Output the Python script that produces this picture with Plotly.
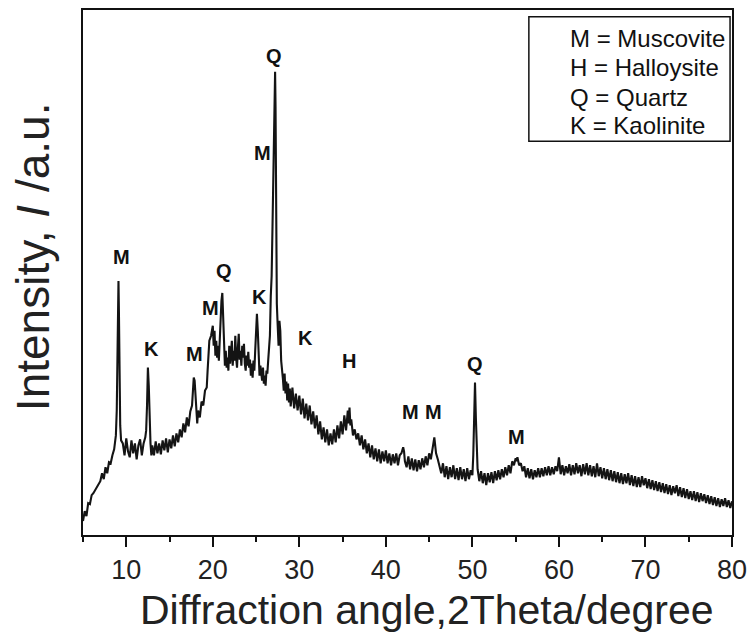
import plotly.graph_objects as go

# ---- data (2theta in degrees, intensity in arbitrary units) ----
two_theta = [
    5.0, 5.2, 5.4, 5.6, 5.8, 6.0, 6.2, 6.4, 6.6, 6.8, 7.0, 7.2, 7.4, 7.6, 7.8, 8.0, 8.2, 8.4, 8.6,
    8.8, 8.9, 9.0, 9.05, 9.1, 9.15, 9.2, 9.3, 9.4,
    9.6, 9.8, 10.0, 10.2, 10.4, 10.6, 10.8, 11.0, 11.2, 11.4, 11.6, 11.8, 12.0, 12.2,
    12.3, 12.4, 12.5, 12.6, 12.7, 12.8, 12.9,
    13.0, 13.2, 13.4, 13.6, 13.8, 14.0, 14.2, 14.4, 14.6, 14.8, 15.0, 15.2, 15.4, 15.6, 15.8, 16.0,
    16.2, 16.4, 16.6, 16.8, 17.0, 17.2, 17.4, 17.6,
    17.7, 17.8, 17.9, 18.0, 18.1, 18.2,
    18.3, 18.5, 18.7, 18.9, 19.1, 19.3, 19.4, 19.5, 19.6,
    19.8, 20.0, 20.1, 20.2, 20.3, 20.4, 20.5, 20.6, 20.7, 20.8,
    20.9, 21.0, 21.1, 21.2, 21.3, 21.4,
    21.5, 21.6, 21.7, 21.8, 21.9, 22.0, 22.1, 22.2, 22.3, 22.4, 22.5, 22.6, 22.7, 22.8, 22.9,
    23.0, 23.1, 23.2, 23.3, 23.4, 23.5, 23.6, 23.7, 23.8, 23.9, 24.0, 24.1, 24.2, 24.3, 24.4,
    24.5, 24.6, 24.7, 24.8, 24.9,
    25.0, 25.1, 25.2, 25.3, 25.4,
    25.5, 25.6, 25.7, 25.8, 25.9, 26.0, 26.1, 26.2, 26.3, 26.4, 26.5, 26.6,
    26.7, 26.8, 26.9, 27.0, 27.1, 27.2, 27.25, 27.3, 27.4, 27.5, 27.6, 27.7, 27.8, 27.9, 28.0,
    28.1, 28.2, 28.3, 28.4, 28.5, 28.6, 28.7, 28.8, 28.9, 29.0,
    29.2, 29.4, 29.6, 29.8, 30.0, 30.2, 30.4, 30.6, 30.8, 31.0,
    31.2, 31.4, 31.6, 31.8, 32.0, 32.2, 32.4, 32.6, 32.8, 33.0,
    33.2, 33.4, 33.6, 33.8, 34.0, 34.2, 34.4, 34.6, 34.8, 35.0,
    35.2, 35.4,
    35.5, 35.6, 35.7, 35.8, 35.9, 36.0, 36.2, 36.4, 36.6,
    36.8, 37.0, 37.2, 37.4, 37.6, 37.8, 38.0, 38.2, 38.4, 38.6,
    38.8, 39.0, 39.2, 39.4, 39.6, 39.8, 40.0, 40.2, 40.4, 40.6,
    40.8, 41.0, 41.2, 41.4, 41.6, 41.8,
    42.0, 42.1, 42.2, 42.4, 42.6, 42.8, 43.0, 43.2, 43.4, 43.6,
    43.8, 44.0, 44.2, 44.4, 44.6, 44.8, 45.0, 45.2, 45.4, 45.5,
    45.6, 45.7, 45.8, 46.0, 46.2,
    46.4, 46.6, 46.8, 47.0, 47.2, 47.4, 47.6, 47.8, 48.0, 48.2,
    48.4, 48.6, 48.8, 49.0, 49.2, 49.4, 49.6, 49.8, 50.0,
    50.1, 50.2, 50.3, 50.4, 50.5, 50.6,
    50.8, 51.0, 51.2, 51.4, 51.6, 51.8, 52.0, 52.2, 52.4, 52.6,
    52.8, 53.0, 53.2, 53.4, 53.6, 53.8, 54.0, 54.2, 54.4, 54.6, 54.8,
    55.0, 55.1, 55.2, 55.4, 55.6, 55.8,
    56.0, 56.2, 56.4, 56.6, 56.8, 57.0, 57.2, 57.4, 57.6, 57.8,
    58.0, 58.2, 58.4, 58.6, 58.8, 59.0, 59.2, 59.4, 59.6, 59.8,
    60.0, 60.1,
    60.2, 60.4, 60.6, 60.8, 61.0, 61.2, 61.4, 61.6, 61.8, 62.0,
    62.2, 62.4, 62.6, 62.8, 63.0, 63.2, 63.4, 63.6, 63.8, 64.0,
    64.2, 64.4, 64.6, 64.8, 65.0, 65.2, 65.4, 65.6, 65.8, 66.0,
    66.2, 66.4, 66.6, 66.8, 67.0, 67.2, 67.4, 67.6, 67.8, 68.0,
    68.2, 68.4, 68.6, 68.8, 69.0, 69.2, 69.4, 69.6, 69.8, 70.0,
    70.2, 70.4, 70.6, 70.8, 71.0, 71.2, 71.4, 71.6, 71.8, 72.0,
    72.2, 72.4, 72.6, 72.8, 73.0, 73.2, 73.4, 73.6, 73.8, 74.0,
    74.2, 74.4, 74.6, 74.8, 75.0, 75.2, 75.4, 75.6, 75.8, 76.0,
    76.2, 76.4, 76.6, 76.8, 77.0, 77.2, 77.4, 77.6, 77.8, 78.0,
    78.2, 78.4, 78.6, 78.8, 79.0, 79.2, 79.4, 79.6, 79.8, 80.0,
]

intensity = [
    14, 24, 19, 32, 31, 40, 42, 45, 48, 52, 54, 62, 56, 68, 62, 73, 72, 80, 86,
    100, 125, 190, 240, 255, 225, 160, 110, 95,
    92, 80, 97, 84, 78, 95, 82, 92, 76, 90, 96, 80, 92, 98,
    105, 130, 168, 150, 110, 92, 80,
    90, 80, 94, 82, 92, 81, 95, 85, 97, 83, 96, 87, 100, 89, 102, 93,
    106, 98, 112, 103, 118, 109, 124, 130,
    145, 158, 155, 140, 120, 112,
    125, 118, 134, 130, 145, 148, 165, 185, 195,
    200, 210, 190, 205, 180, 195, 178, 190, 175, 200,
    215, 235, 243, 215, 190, 170,
    185, 168, 178, 165, 190, 172, 182, 195, 170, 185, 175, 200, 178, 168, 188,
    202, 176, 185, 170, 190, 178, 192, 172, 165, 180, 170, 184, 168, 176, 160,
    172, 158, 175, 165, 185,
    200, 222, 205, 175, 160,
    170, 162, 155, 168, 152, 160, 150, 165, 162, 175, 185, 200,
    240, 260, 310, 380, 440, 465, 430, 330, 232, 210, 190, 215, 205, 175, 168,
    157, 145, 162, 142, 154, 135, 152, 133, 147, 129,
    148, 127, 142, 125, 140, 121, 137, 117, 132, 115,
    130, 111, 124, 107, 120, 101, 114, 96, 108, 93,
    106, 90, 102, 91, 106, 93, 110, 97, 114, 101,
    120, 105,
    115, 125, 112, 128, 110, 116, 100, 106, 96,
    102, 90, 100, 86, 96, 82, 92, 78, 90, 76,
    87, 74, 86, 72, 84, 74, 85, 72, 82, 70,
    81, 72, 82, 70, 80, 82,
    88, 84, 74, 68, 79, 66, 77, 65, 76, 64,
    75, 66, 77, 68, 79, 70, 82, 76, 86, 92,
    98, 90, 82, 76, 68,
    62, 72, 58, 69, 56, 68, 58, 70, 56, 67,
    55, 68, 56, 66, 54, 67, 56, 65, 60,
    80, 120, 153, 118, 75, 66,
    54, 64, 52, 62, 50, 62, 53, 63, 52, 64,
    55, 65, 56, 66, 58, 68, 60, 70, 62, 74, 70,
    77, 74, 78, 70, 72, 64,
    69, 58, 67, 57, 66, 56, 65, 58, 67, 58,
    67, 59, 68, 60, 69, 60, 68, 61, 69, 64,
    78, 70,
    61, 70, 60, 69, 62, 71, 60, 70, 61, 72,
    62, 70, 59, 71, 61, 72, 60, 70, 59, 69,
    58, 72, 59, 68, 57, 67, 56, 66, 55, 65,
    54, 64, 53, 63, 52, 62, 51, 61, 52, 62,
    50, 60, 49, 59, 48, 58, 48, 59, 50, 57,
    47, 56, 46, 55, 45, 54, 44, 53, 43, 52,
    42, 51, 41, 50, 40, 49, 42, 50, 39, 48,
    38, 47, 37, 46, 36, 44, 35, 44, 34, 43,
    33, 42, 34, 41, 32, 40, 31, 39, 30, 38,
    29, 37, 28, 36, 29, 37, 28, 35, 27, 34,
]

# phase identification labels placed above the reflections
phase_labels = ["M", "K", "M", "M", "Q", "K", "M", "Q", "K", "H", "M", "M", "Q", "M"]
label_theta = [9.47, 12.9, 17.94, 19.77, 21.26, 25.38, 25.73, 27.1, 30.76, 35.69, 42.79, 45.54, 50.35, 55.04]
label_intensity = [279, 187, 182, 228, 265, 239, 383, 481, 198, 175, 123, 123, 172, 98]

legend_lines = ["M = Muscovite", "H = Halloysite", "Q = Quartz", "K = Kaolinite"]
x_ticks = [10, 20, 30, 40, 50, 60, 70, 80]

FONT = "Liberation Sans, Arial, Helvetica, sans-serif"

fig = go.Figure()
fig.add_trace(go.Scatter(
    x=two_theta, y=intensity, mode="lines",
    line=dict(color="#141414", width=2.1),
    showlegend=False, hoverinfo="skip",
))

# peak letters
for lab, tx, ty in zip(phase_labels, label_theta, label_intensity):
    fig.add_annotation(x=tx, y=ty, xref="x", yref="y", text=f"<b>{lab}</b>",
                       showarrow=False, font=dict(family=FONT, size=20, color="#111"))

# legend box
fig.add_shape(type="rect", xref="paper", yref="paper",
              x0=0.687, x1=0.997, y0=0.75, y1=0.987,
              line=dict(color="#111", width=1.5), fillcolor="white", layer="above")
legend_y = [0.945, 0.89, 0.833, 0.78]
for txt, ly in zip(legend_lines, legend_y):
    fig.add_annotation(x=0.748, y=ly, xref="paper", yref="paper", text=txt,
                       xanchor="left", yanchor="middle", showarrow=False,
                       font=dict(family=FONT, size=24, color="#111"))

# axis titles
fig.add_annotation(x=0.53, y=-0.142, xref="paper", yref="paper",
                   xanchor="center", yanchor="middle",
                   text="Diffraction angle,2Theta/degree", showarrow=False,
                   font=dict(family=FONT, size=41, color="#222"))
fig.add_annotation(x=-0.078, y=0.53, xref="paper", yref="paper",
                   xanchor="center", yanchor="middle",
                   text="Intensity, <i>I</i> /a.u.", textangle=-90, showarrow=False,
                   font=dict(family=FONT, size=46, color="#222"))

fig.update_layout(
    width=755, height=636,
    margin=dict(l=83, r=17, t=8, b=101),
    paper_bgcolor="white", plot_bgcolor="white",
    xaxis=dict(range=[5, 80], tickvals=x_ticks, ticks="outside", ticklen=10,
               tickwidth=1.5, tickcolor="#111",
               showline=True, linecolor="#111", linewidth=2, mirror=True,
               showgrid=False, zeroline=False,
               tickfont=dict(family=FONT, size=27, color="#222"),
               minor=dict(dtick=5, tick0=5, ticks="outside", ticklen=5, tickwidth=1.5,
                          tickcolor="#111", showgrid=False)),
    yaxis=dict(range=[0, 527], showticklabels=False, ticks="",
               showline=True, linecolor="#111", linewidth=2, mirror=True,
               showgrid=False, zeroline=False),
)

fig.write_html("out.html")
